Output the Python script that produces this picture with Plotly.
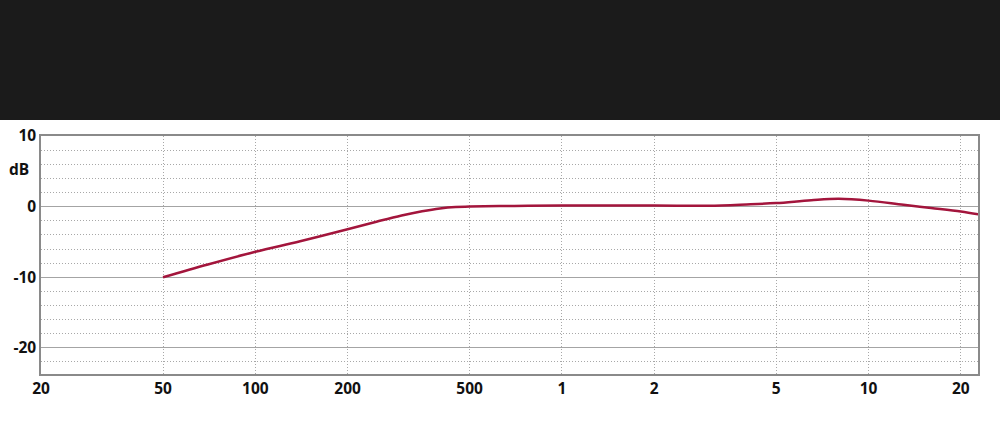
import plotly.graph_objects as go

freq_hz = [50, 70, 100, 140, 200, 250, 300, 350, 400, 450, 500, 700, 1000, 2000, 3000, 4000, 5000, 6500, 8000, 10000, 13000, 16000, 20000, 22800]
level_db = [-10.0, -8.2, -6.4, -4.9, -3.2, -2.1, -1.25, -0.65, -0.25, -0.05, 0.0, 0.1, 0.15, 0.15, 0.12, 0.3, 0.5, 0.9, 1.1, 0.85, 0.25, -0.2, -0.7, -1.1]

x_tickvals = [20, 50, 100, 200, 500, 1000, 2000, 5000, 10000, 20000]
x_ticktext = ["20", "50", "100", "200", "500", "1", "2", "5", "10", "20"]
y_tickvals = [-20, -10, 0, 10]
y_ticktext = ["-20", "-10", "0", "10"]
y_minor = [-22, -18, -16, -14, -12, -8, -6, -4, -2, 2, 4, 6, 8]

font = dict(family="Open Sans", size=15.5, color="#111111", weight=700)
dots = "1px,2px"

fig = go.Figure()
fig.add_trace(go.Scatter(
    x=freq_hz, y=level_db, mode="lines",
    line=dict(color="#a3153c", width=2.5, shape="spline", smoothing=1.0),
    hoverinfo="skip", showlegend=False,
))

fig.update_layout(
    width=1000, height=427,
    margin=dict(l=41, r=22, t=136, b=53),
    paper_bgcolor="white", plot_bgcolor="white",
    xaxis=dict(
        type="log", range=[1.30103, 4.357],
        tickvals=x_tickvals, ticktext=x_ticktext,
        showgrid=True, gridcolor="#a8a8a8", griddash=dots, gridwidth=1,
        showline=True, linecolor="#8a8a8a", linewidth=1.5, mirror=True,
        ticks="", tickfont=font, zeroline=False,
    ),
    yaxis=dict(
        range=[-23.7, 10],
        tickvals=y_tickvals, ticktext=y_ticktext,
        showgrid=True, gridcolor="#a4a4a4", gridwidth=1.2,
        minor=dict(tickvals=y_minor,
                   showgrid=True, gridcolor="#a8a8a8", griddash=dots, gridwidth=1),
        showline=True, linecolor="#8a8a8a", linewidth=1.5, mirror=True,
        ticks="", tickfont=font, zeroline=False,
    ),
    shapes=[dict(type="rect", xref="paper", yref="paper",
                 x0=-0.1, x1=1.1, y0=1.0672, y1=1.7,
                 fillcolor="#1b1b1b", line=dict(width=0), layer="above")],
    annotations=[dict(text="dB", xref="paper", yref="paper",
                      x=-0.023, y=0.861, xanchor="center", yanchor="middle",
                      showarrow=False, font=font)],
)

fig.write_html("out.html", config={"displayModeBar": False},
               post_script="document.body.style.margin='0';document.body.style.padding='0';")
